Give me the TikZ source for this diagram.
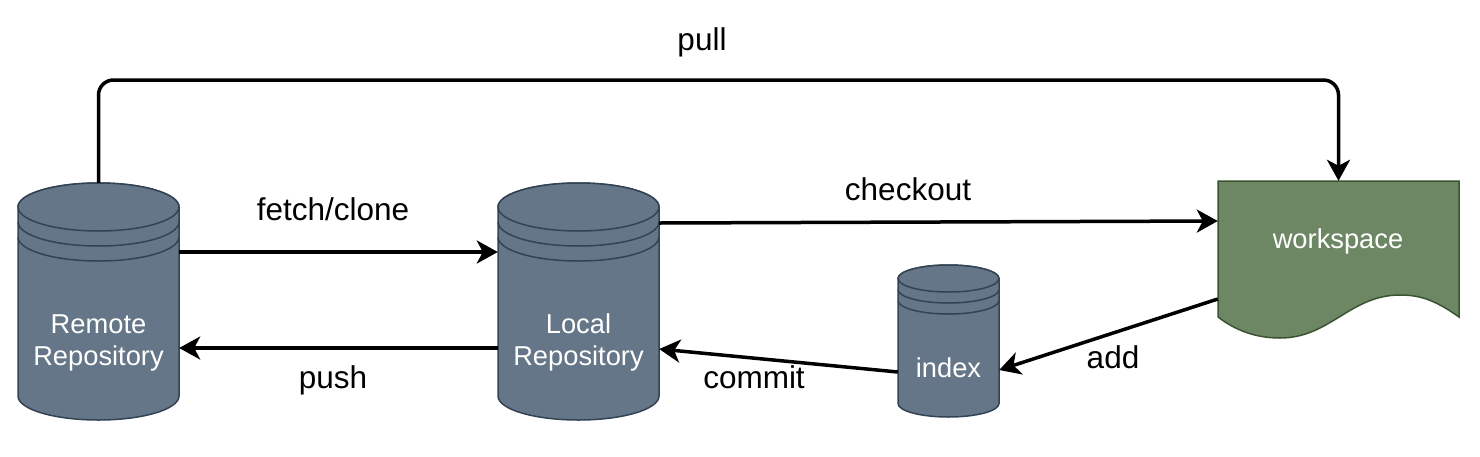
\documentclass[tikz,border=0pt]{standalone}
\usepackage{fontspec}
\setmainfont{Liberation Sans}
\usetikzlibrary{arrows.meta}
\definecolor{cylfill}{HTML}{647687}
\definecolor{cylline}{HTML}{314354}
\definecolor{wsfill}{HTML}{6D8764}
\definecolor{wsline}{HTML}{3A5431}
\newcommand{\mycyl}[6]{% x1 x2 top bottom ry gap
  \pgfmathsetmacro{\cx}{(#1+#2)/2}
  \pgfmathsetmacro{\rx}{(#2-#1)/2}
  \draw[cylstyle] (#1,#3+#5) -- (#1,#4-#5) arc[start angle=180,end angle=0,x radius=\rx,y radius=#5] -- (#2,#3+#5) arc[start angle=0,end angle=-180,x radius=\rx,y radius=#5] -- cycle;
  \draw[cylstyle] (\cx,#3+#5) ellipse[x radius=\rx,y radius=#5];
  \draw[cylstyle,fill=none] (#1,#3+#5+#6) arc[start angle=180,end angle=0,x radius=\rx,y radius=#5];
  \draw[cylstyle,fill=none] (#1,#3+#5+2*#6) arc[start angle=180,end angle=0,x radius=\rx,y radius=#5];
}
\begin{document}
\begin{tikzpicture}[x=1pt,y=-1pt,
  cylstyle/.style={fill=cylfill,draw=cylline,line width=1.5pt},
  holder/.style={draw=none,inner sep=0pt},
  ntext/.style={text=white,font=\fontsize{27.3}{31}\selectfont,align=center},
  elabel/.style={font=\fontsize{31.5}{36}\selectfont,anchor=base},
  arr/.style={line width=3.5pt,-{Stealth[length=21pt,width=23pt,inset=6pt]}}]
\useasboundingbox (0,0) rectangle (1480,456);
% shapes
\mycyl{18}{179}{183}{420}{24}{15}
\mycyl{498}{659}{183}{420}{24}{15}
\mycyl{898}{999}{265}{417}{13.5}{11}
\draw[fill=wsfill,draw=wsline,line width=1.5pt]
  (1218,181) -- (1459,181) -- (1459,317)
  .. controls (1435,300) and (1420,295) .. (1400,295)
  .. controls (1350,295) and (1330,338) .. (1280,338)
  .. controls (1255,338) and (1235,330) .. (1218,317) -- cycle;
% named holders
\node[holder,minimum width=161pt,minimum height=237pt] (remote) at (98.5,301.5) {};
\node[holder,minimum width=161pt,minimum height=237pt] (local) at (578.5,301.5) {};
\node[holder,minimum width=101pt,minimum height=152pt] (index) at (948.5,341) {};
\node[holder,minimum width=241pt,minimum height=136pt] (ws) at (1338.5,249) {};
% node texts
\node[ntext,anchor=base] (remotet) at (98.5,333) {Remote};
\node[ntext,anchor=base] (remotet2) at (98.5,365) {Repository};
\node[ntext,anchor=base] (localt) at (578.5,333) {Local};
\node[ntext,anchor=base] (localt2) at (578.5,365) {Repository};
\node[ntext,anchor=base] (indext) at (948.5,377) {index};
\node[ntext,anchor=base] (wst) at (1338,248) {workspace};
% connectors
\draw[arr,rounded corners=15pt] (remote.north) -- (remote.north |- 0,80) -| (ws.north);
\draw[arr] (remote.east |- 0,252) -- (local.west |- 0,252);
\draw[arr] (local.west |- 0,348) -- (remote.east |- 0,348);
\draw[arr] ([yshift=-0pt]local.east |- 0,223) -- (ws.west |- 0,221);
\draw[arr] (index.west |- 0,372) -- (local.east |- 0,349);
\draw[arr] (ws.west |- 0,299) -- (index.east |- 0,370);
% labels
\node[elabel] (lpull) at (702,50) {pull};
\node[elabel] (lfetch) at (333,220) {fetch/clone};
\node[elabel] (lcheck) at (908,200) {checkout};
\node[elabel] (lpush) at (333,388) {push};
\node[elabel] (lcommit) at (754,388) {commit};
\node[elabel] (ladd) at (1113,368) {add};
\end{tikzpicture}
\end{document}
